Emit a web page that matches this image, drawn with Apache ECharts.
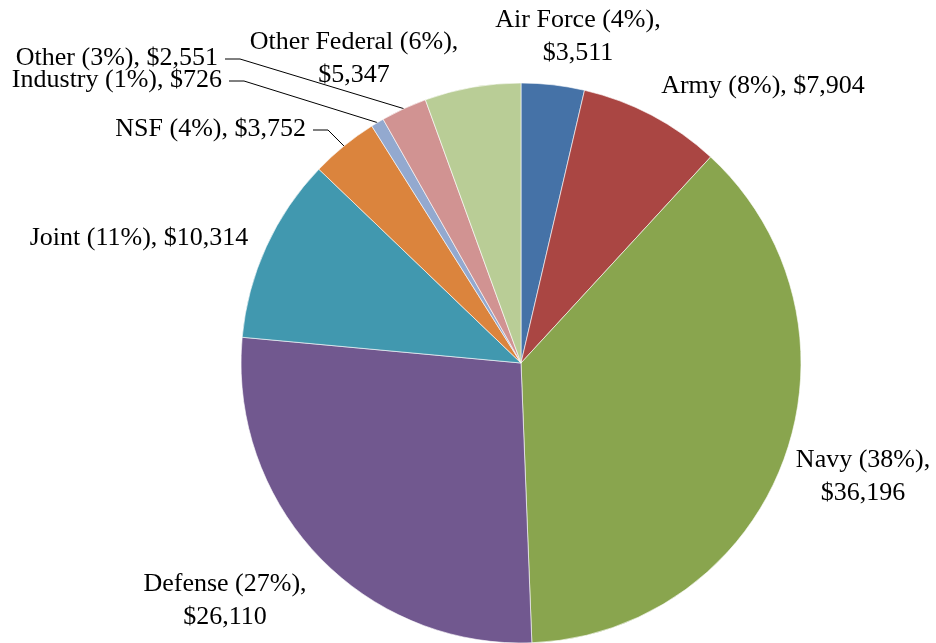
<!DOCTYPE html>
<html><head><meta charset="utf-8">
<script src="https://cdn.jsdelivr.net/npm/echarts@6/dist/echarts.min.js"></script>
<style>html,body{margin:0;padding:0;background:#fff}#c{width:936px;height:643px}</style>
</head><body><div id="c"></div>
<script>
const categories = ['Air Force','Army','Navy','Defense','Joint','NSF','Industry','Other','Other Federal'];
const values = [3511, 7904, 36196, 26110, 10314, 3752, 726, 2551, 5347];
const colors = ['#4572A7','#AA4643','#89A54E','#71588F','#4198AF','#DB843D','#93A9CF','#D19392','#B9CD96'];
// label placement (layout only)
const labelPos = [
  {x:578, y:37, align:'center', twoLine:true},
  {x:763, y:86, align:'center'},
  {x:863, y:477, align:'center', twoLine:true},
  {x:225, y:601, align:'center', twoLine:true},
  {x:139, y:238, align:'center'},
  {x:306, y:129, align:'right', line:true},
  {x:222, y:80, align:'right', line:true},
  {x:218, y:58, align:'right', line:true},
  {x:354, y:59, align:'center', twoLine:true}
];
const total = values.reduce((a,b)=>a+b,0);
const fmtNum = v => '$' + v.toLocaleString('en-US');
const chart = echarts.init(document.getElementById('c'));
const cx = 521, cy = 363, R = 280;
chart.setOption({
  animation:false,
  backgroundColor:'#fff',
  series:[{
    type:'pie',
    center:[cx, cy],
    radius:[0, R],
    startAngle:90,
    clockwise:true,
    avoidLabelOverlap:false,
    itemStyle:{borderColor:'#fff', borderWidth:0.6},
    label:{
      show:true,
      position:'outside',
      fontFamily:'Liberation Serif',
      fontSize:26,
      lineHeight:33,
      color:'#000',
      formatter: p => {
        const pct = Math.round(p.value/total*100);
        const sep = labelPos[p.dataIndex].twoLine ? ',\n' : ', ';
        return p.name + ' (' + pct + '%)' + sep + fmtNum(p.value);
      }
    },
    labelLine:{show:false, lineStyle:{color:'#000', width:1}, length:10, length2:10},
    data: categories.map((c,i)=>({
      name:c, value:values[i],
      itemStyle:{color:colors[i]},
      label:{align:labelPos[i].align === 'right' ? 'right' : 'center'},
      labelLine:{show:!!labelPos[i].line}
    })),
    labelLayout: function(params){
      const lp = labelPos[params.dataIndex];
      const res = {x:lp.x, y:lp.y, align:lp.align, verticalAlign:'middle'};
      if (lp.line) {
        let cum = 0;
        for (let k=0;k<params.dataIndex;k++) cum += values[k];
        const mid = (cum + values[params.dataIndex]/2)/total*2*Math.PI;
        const ex = cx + R*Math.sin(mid), ey = cy - R*Math.cos(mid);
        res.labelLinePoints = [[lp.x+7, lp.y+1],[lp.x+22, lp.y+1],[ex, ey]];
      }
      return res;
    }
  }]
});
</script></body></html>
